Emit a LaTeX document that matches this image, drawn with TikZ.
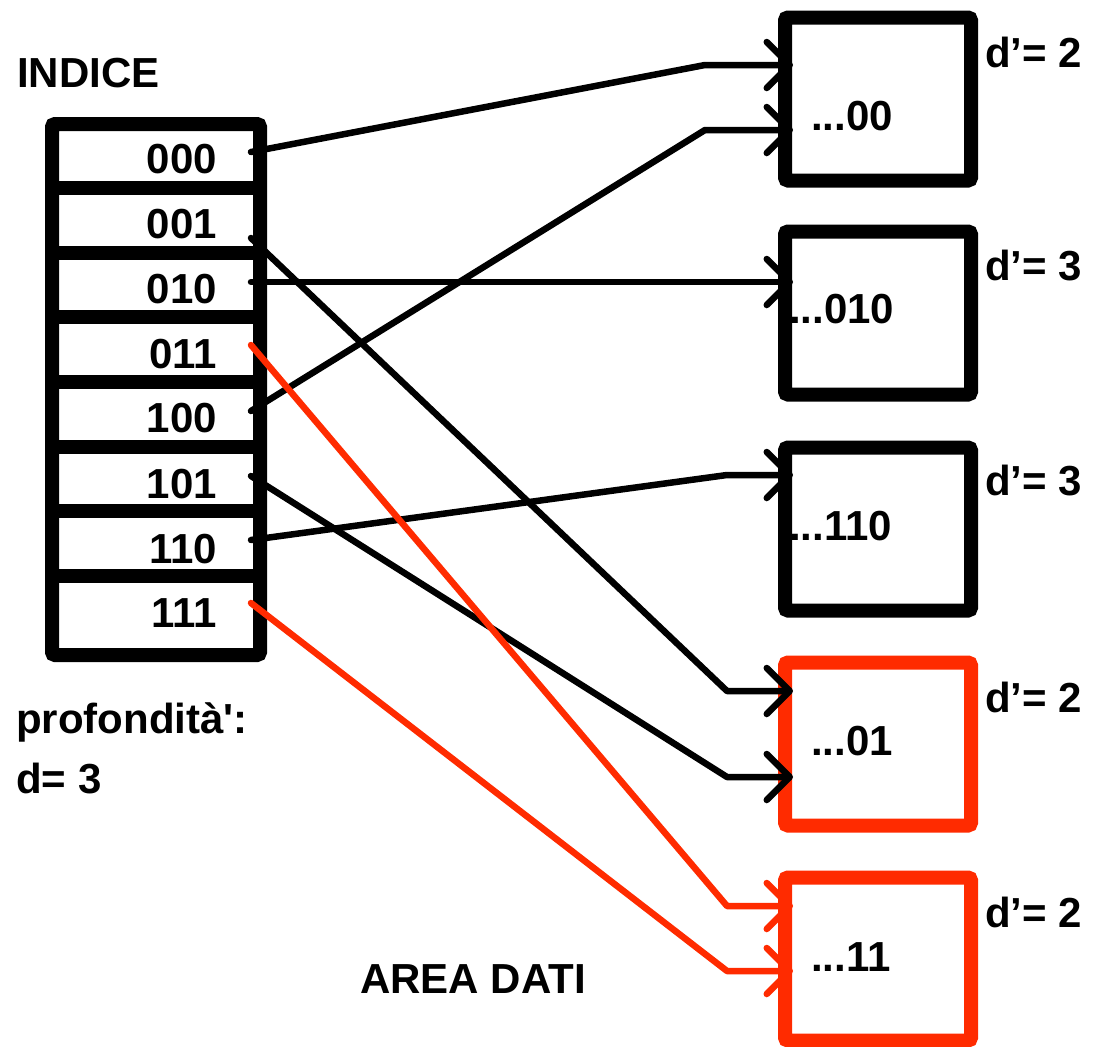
\documentclass[tikz,border=0pt]{standalone}
\usepackage{fontspec}
\setmainfont{Liberation Sans}[Ligatures=TeXOff]
\usetikzlibrary{arrows.meta}
\definecolor{hred}{RGB}{255,43,0}
\begin{document}
\begin{tikzpicture}[x=1pt,y=-1pt,
  txt/.style={font=\fontsize{42}{48}\selectfont\bfseries, inner sep=0pt, anchor=base west},
  lbl/.style={font=\fontsize{42}{48}\selectfont\bfseries, inner sep=0pt, anchor=base east},
  bucket/.style={draw=#1, line width=14pt, rounded corners=3pt, minimum width=186pt, minimum height=163pt, inner sep=0pt},
  link/.style={line width=6.5pt, line cap=round, line join=round, -{Straight Barb[length=23pt,width=46pt,round]}},
  thick14/.style={line width=14pt}]
% canvas
\path[use as bounding box, fill=white] (0,0) rectangle (1093,1047);

% index table
\draw[thick14, rounded corners=3pt] (52,124) rectangle (260,655);
\foreach \yy in {188,253,317,382,447,511,576}
  \draw[thick14] (52,\yy) -- (260,\yy);

\node[txt] (indice) at (17,87) {INDICE};
\node[lbl] (l000) at (217,173) {000};
\node[lbl] (l001) at (217,238) {001};
\node[lbl] (l010) at (217,303) {010};
\node[lbl] (l011) at (217,368) {011};
\node[lbl] (l100) at (217,432) {100};
\node[lbl] (l101) at (217,498) {101};
\node[lbl] (l110) at (217,563) {110};
\node[lbl] (l111) at (217,627) {111};

\node[txt] (prof) at (16,733) {profondit\`a':};
\node[txt] (dd) at (16,793) {d= 3};
\node[txt] (area) at (360,993) {AREA DATI};

% buckets
\node[bucket=black] (A) at (878,99) {};
\node[bucket=black] (B) at (878,313) {};
\node[bucket=black] (C) at (878,529) {};
\node[bucket=hred] (D) at (878,744) {};
\node[bucket=hred] (E) at (878,959) {};

\node[txt] (tA) at (811,130) {...00};
\node[txt] (tB) at (789,323) {...010};
\node[txt] (tC) at (789,540) {...110};
\node[txt] (tD) at (811,755) {...01};
\node[txt] (tE) at (811,971) {...11};

\node[txt] (dA) at (985,67) {d’= 2};
\node[txt] (dB) at (985,280) {d’= 3};
\node[txt] (dC) at (985,495) {d’= 3};
\node[txt] (dD) at (985,712) {d’= 2};
\node[txt] (dE) at (985,927) {d’= 2};

% connector points
\coordinate (s000) at (251,152);
\coordinate (s001) at (251,238);
\coordinate (s010) at (251,282);
\coordinate (s011) at (251,345);
\coordinate (s100) at (251,411);
\coordinate (s101) at (251,476);
\coordinate (s110) at (251,540);
\coordinate (s111) at (251,603);

\coordinate (kA1) at (705,65);   \coordinate (eA1) at (793,65);
\coordinate (kA2) at (705,130);  \coordinate (eA2) at (793,130);
\coordinate (eB)  at (793,282);
\coordinate (kC)  at (727,475);  \coordinate (eC)  at (793,475);
\coordinate (kD1) at (727,691);  \coordinate (eD1) at (793,691);
\coordinate (kD2) at (727,777);  \coordinate (eD2) at (793,777);
\coordinate (kE1) at (727,906);  \coordinate (eE1) at (793,906);
\coordinate (kE2) at (727,971);  \coordinate (eE2) at (793,971);

% connectors
\draw[link] (s000) -- (kA1) -- (eA1);
\draw[link] (s100) -- (kA2) -- (eA2);
\draw[link] (s010) -- (eB);
\draw[link] (s110) -- (kC) -- (eC);
\draw[link] (s001) -- (kD1) -- (eD1);
\draw[link] (s101) -- (kD2) -- (eD2);
\draw[link, draw=hred] (s011) -- (kE1) -- (eE1);
\draw[link, draw=hred] (s111) -- (kE2) -- (eE2);
\end{tikzpicture}
\end{document}
